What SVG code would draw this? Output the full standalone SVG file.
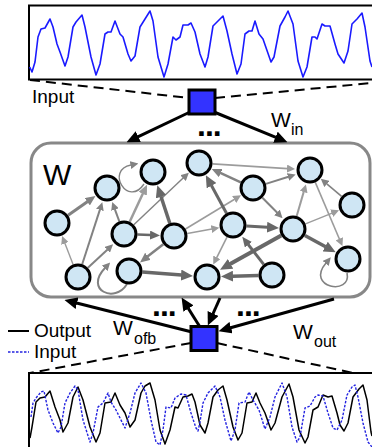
<svg xmlns="http://www.w3.org/2000/svg" width="372" height="447" viewBox="0 0 372 447">
<defs>
<style>
text{font-family:"Liberation Sans",Arial,Helvetica,sans-serif;fill:#000}
.node circle{fill:#cfe6f4;stroke:#000;stroke-width:3}
.sq{fill:#3333ff;stroke:#000;stroke-width:3}
.e{fill:none}
.dk{stroke:#686868}.md{stroke:#828282}.lt{stroke:#9c9c9c}
.io{stroke:#000;stroke-width:3;fill:none;marker-end:url(#aK)}
.dash{stroke:#000;stroke-width:2;stroke-dasharray:10 6;fill:none}
.lbl{font-size:19px}
.w{font-size:21px}
.sub{font-size:16px}
.dots{font-size:32px;font-weight:bold;letter-spacing:-1px}
</style>
<marker id="aDS" markerUnits="userSpaceOnUse" markerWidth="8" markerHeight="8" refX="0.5" refY="4" orient="auto" viewBox="0 0 8 8"><path d="M0,0L8,4L0,8z" fill="#686868"/></marker>
<marker id="aDM" markerUnits="userSpaceOnUse" markerWidth="10" markerHeight="9" refX="0.5" refY="4.5" orient="auto" viewBox="0 0 10 9"><path d="M0,0L10,4.5L0,9z" fill="#686868"/></marker>
<marker id="aDL" markerUnits="userSpaceOnUse" markerWidth="12" markerHeight="11" refX="0.5" refY="5.5" orient="auto" viewBox="0 0 12 11"><path d="M0,0L12,5.5L0,11z" fill="#686868"/></marker>
<marker id="aMS" markerUnits="userSpaceOnUse" markerWidth="8" markerHeight="8" refX="0.5" refY="4" orient="auto" viewBox="0 0 8 8"><path d="M0,0L8,4L0,8z" fill="#828282"/></marker>
<marker id="aMM" markerUnits="userSpaceOnUse" markerWidth="10" markerHeight="9" refX="0.5" refY="4.5" orient="auto" viewBox="0 0 10 9"><path d="M0,0L10,4.5L0,9z" fill="#828282"/></marker>
<marker id="aLS" markerUnits="userSpaceOnUse" markerWidth="8" markerHeight="8" refX="0.5" refY="4" orient="auto" viewBox="0 0 8 8"><path d="M0,0L8,4L0,8z" fill="#9c9c9c"/></marker>
<marker id="aLM" markerUnits="userSpaceOnUse" markerWidth="10" markerHeight="9" refX="0.5" refY="4.5" orient="auto" viewBox="0 0 10 9"><path d="M0,0L10,4.5L0,9z" fill="#9c9c9c"/></marker>
<marker id="aK" markerUnits="userSpaceOnUse" markerWidth="13" markerHeight="12" refX="0.5" refY="6" orient="auto" viewBox="0 0 13 12"><path d="M0,0L13,6L0,12z" fill="#000"/></marker>
</defs>
<rect width="372" height="447" fill="#fff"/>

<g id="input-plot">
<rect x="29" y="5.5" width="344" height="74" fill="#fff" stroke="#000" stroke-width="2"/>
<polyline fill="none" stroke="#1a1aff" stroke-width="1.6" stroke-linejoin="round" points="29.7,67 32,72 35,62 38,37 41,29 45,28 50,19 53,27 57,44 60,52 65,66 68,57 73,27 76,22 82,15 85,27 91,57 96,75 100,64 105,34 108,32 111,32 115,21 120,34 123,37 128,54 131,61 135,56 140,27 145,19 150,11 153,21 158,57 164,77 168,64 173,37 176,40 180,37 183,25 188,25 191,23 195,32 200,54 205,67 208,57 213,26 218,21 223,16 227,31 232,54 237,74 241,64 245,34 249,31 252,31 255,21 259,34 263,39 271,62 274,57 280,26 285,17 288,11 293,24 298,61 303,77 307,67 312,37 315,37 317,39 322,24 325,26 330,26 335,44 338,54 344,63 348,51 352,24 357,19 362,13 365,27 370,61 372,67"/>
</g>

<g id="output-plot">
<rect x="29" y="373" width="344" height="80" fill="#fff" stroke="#000" stroke-width="2"/>
<polyline fill="none" stroke="#000" stroke-width="1.5" stroke-linejoin="round" points="30,438 32,427 36,402 40,398 45,397 50,391 55,407 60,420 63,432 68,423 73,397 78,387 83,400 90,427 96,442 100,433 105,403 111,402 115,393 120,405 125,413 130,427 135,420 141,393 145,386 150,383 155,400 160,430 165,444 170,430 175,407 178,408 183,397 188,396 192,394 195,402 200,425 205,433 208,423 213,397 218,390 223,386 227,400 233,427 238,440 242,433 247,403 252,402 256,393 260,403 265,413 271,430 275,423 282,397 289,384 293,397 299,430 305,443 308,437 313,410 318,407 323,395 328,397 332,396 337,413 340,425 344,431 348,423 353,397 359,389 363,385 367,400 371,432 372,436"/>
<polyline fill="none" stroke="#2222e0" stroke-width="1.4" stroke-dasharray="2.5 1.5" stroke-linejoin="round" points="31,417 33,403 36,398 41,392 44,391 48,410 53,423 58,433 61,427 65,403 70,393 75,386 78,390 83,420 90,442 93,433 98,407 103,403 108,393 111,402 116,410 125,428 130,413 135,393 141,383 146,393 151,420 156,442 160,445 163,430 166,407 171,408 175,398 181,394 186,395 191,413 196,428 198,431 200,422 203,403 208,393 215,386 220,397 225,420 231,441 235,430 239,403 245,402 249,392 253,400 259,410 265,429 270,417 275,397 282,383 287,397 292,427 297,442 300,437 305,408 310,406 315,397 318,395 323,396 328,413 333,428 337,430 342,420 347,395 352,387 355,385 358,397 363,423 368,442 372,447"/>
</g>

<g id="reservoir">
<rect x="31" y="143" width="339" height="154" rx="20" ry="20" fill="#fff" stroke="#888" stroke-width="3"/>
<text x="43" y="185" font-size="30">W</text>
</g>

<g id="connectors">
<line class="dash" x1="30" y1="80" x2="189" y2="98"/>
<line class="dash" x1="215" y1="98" x2="372" y2="83"/>
<line class="dash" x1="191" y1="343" x2="30" y2="373"/>
<line class="dash" x1="217" y1="343" x2="353" y2="373"/>
<line class="io" x1="190" y1="112" x2="137.8" y2="136.8"/>
<line class="io" x1="214" y1="112" x2="275.9" y2="137.4"/>
<line class="io" x1="192" y1="332" x2="76.6" y2="303"/>
<line class="io" x1="200" y1="327" x2="188.2" y2="308.2"/>
<line class="io" x1="220" y1="298" x2="212.9" y2="314"/>
<line class="io" x1="334" y1="299" x2="230.6" y2="327.8"/>

<line class="e md" stroke-width="3" x1="68.1" y1="215.3" x2="87.7" y2="201.5" marker-end="url(#aMM)"/>
<line class="e lt" stroke-width="1.4" x1="73.1" y1="264.4" x2="64.8" y2="243" marker-end="url(#aLS)"/>
<line class="e md" stroke-width="2" x1="82.2" y1="264.2" x2="100" y2="209.4" marker-end="url(#aMS)"/>
<line class="e md" stroke-width="2" x1="87.9" y1="267.8" x2="107.6" y2="249.4" marker-end="url(#aMS)"/>
<line class="e md" stroke-width="2" x1="119.3" y1="221.3" x2="114.8" y2="209.1" marker-end="url(#aMS)"/>
<line class="e lt" stroke-width="2.5" x1="129.7" y1="221.8" x2="143" y2="193.3" marker-end="url(#aLM)"/>
<line class="e md" stroke-width="1.4" x1="133.8" y1="224.7" x2="183.4" y2="177.8" marker-end="url(#aMS)"/>
<line class="e dk" stroke-width="3.5" x1="169.8" y1="223.2" x2="160.9" y2="196.2" marker-end="url(#aDL)"/>
<line class="e dk" stroke-width="2.5" x1="137.5" y1="234.5" x2="150.5" y2="235.1" marker-end="url(#aDM)"/>
<line class="e md" stroke-width="2.5" x1="163.3" y1="244.3" x2="147.5" y2="256.6" marker-end="url(#aMM)"/>
<line class="e lt" stroke-width="1.6" x1="185.5" y1="229" x2="234.6" y2="199.2" marker-end="url(#aLS)"/>
<line class="e lt" stroke-width="1.6" x1="187.3" y1="233.5" x2="211.9" y2="229" marker-end="url(#aLS)"/>
<line class="e dk" stroke-width="3.5" x1="142.5" y1="272" x2="181.5" y2="275.1" marker-end="url(#aDL)"/>
<line class="e dk" stroke-width="3.5" x1="258.5" y1="275.4" x2="232.5" y2="276.2" marker-end="url(#aDL)"/>
<line class="e dk" stroke-width="4" x1="281.2" y1="235.6" x2="230.1" y2="264.1" marker-end="url(#aDL)"/>
<line class="e lt" stroke-width="1.6" x1="227" y1="237.1" x2="216.6" y2="257.8" marker-end="url(#aLS)"/>
<line class="e dk" stroke-width="3" x1="263.7" y1="264.4" x2="248.1" y2="244.3" marker-end="url(#aDM)"/>
<line class="e dk" stroke-width="3" x1="226.5" y1="213.2" x2="211.3" y2="185.3" marker-end="url(#aDL)"/>
<line class="e md" stroke-width="2.5" x1="240.8" y1="182.3" x2="220.3" y2="172.9" marker-end="url(#aMM)"/>
<line class="e lt" stroke-width="1.6" x1="212.5" y1="163.9" x2="287.5" y2="168.6" marker-end="url(#aLS)"/>
<line class="e md" stroke-width="2" x1="265.9" y1="183.9" x2="288.5" y2="176.8" marker-end="url(#aMS)"/>
<line class="e md" stroke-width="2" x1="262.4" y1="197.7" x2="277.3" y2="212.8" marker-end="url(#aMS)"/>
<line class="e dk" stroke-width="3" x1="246.5" y1="225.9" x2="267.5" y2="227.3" marker-end="url(#aDL)"/>
<line class="e lt" stroke-width="2" x1="296.7" y1="216" x2="303.8" y2="191.6" marker-end="url(#aLS)"/>
<line class="e lt" stroke-width="1.4" x1="305.5" y1="223.9" x2="332.1" y2="213.1" marker-end="url(#aLS)"/>
<line class="e md" stroke-width="1.6" x1="341.6" y1="196.4" x2="326.5" y2="183.7" marker-end="url(#aMS)"/>
<line class="e lt" stroke-width="1.6" x1="315.3" y1="182.4" x2="339.5" y2="239.2" marker-end="url(#aLS)"/>
<line class="e dk" stroke-width="3.5" x1="304.9" y1="235.5" x2="325.6" y2="246.8" marker-end="url(#aDL)"/>
<path class="e md" stroke-width="1.4" d="M144,184 C128,208 105,170 131,165" marker-end="url(#aMS)"/>
<path class="e md" stroke-width="2" d="M127,284 C115,304 84,290 105,268" marker-end="url(#aMS)"/>
<path class="e md" stroke-width="1.6" d="M347,273 C352,296 305,288 326,263" marker-end="url(#aMS)"/>
</g>

<g id="in-node"><rect class="sq" x="189" y="90" width="26" height="24"/></g>
<g id="out-node"><rect class="sq" x="191" y="326.5" width="26" height="24"/></g>

<g id="n1" class="node"><circle cx="57" cy="223" r="12"/></g>
<g id="n2" class="node"><circle cx="107" cy="188" r="12"/></g>
<g id="n3" class="node"><circle cx="153" cy="172" r="12"/></g>
<g id="n4" class="node"><circle cx="199" cy="163" r="12"/></g>
<g id="n5" class="node"><circle cx="253" cy="188" r="12"/></g>
<g id="n6" class="node"><circle cx="310" cy="170" r="12"/></g>
<g id="n7" class="node"><circle cx="352" cy="205" r="12"/></g>
<g id="n8" class="node"><circle cx="124" cy="234" r="12"/></g>
<g id="n9" class="node"><circle cx="174" cy="236" r="12"/></g>
<g id="n10" class="node"><circle cx="233" cy="225" r="12"/></g>
<g id="n11" class="node"><circle cx="293" cy="229" r="12"/></g>
<g id="n12" class="node"><circle cx="348" cy="259" r="12"/></g>
<g id="n13" class="node"><circle cx="78" cy="277" r="12"/></g>
<g id="n14" class="node"><circle cx="129" cy="271" r="12"/></g>
<g id="n15" class="node"><circle cx="207" cy="277" r="12"/></g>
<g id="n16" class="node"><circle cx="272" cy="275" r="12"/></g>

<g id="labels">
<text class="lbl" x="32" y="103">Input</text>
<text class="w" x="271" y="127">W</text><text class="sub" x="291" y="135">in</text>
<text class="dots" x="197" y="136">...</text>
<text class="dots" x="152" y="316">...</text>
<text class="dots" x="236" y="316">...</text>
<text class="w" x="113" y="335">W</text><text class="sub" x="134" y="344">ofb</text>
<text class="w" x="293" y="339">W</text><text class="sub" x="314" y="347">out</text>
</g>

<g id="legend">
<line x1="8" y1="331" x2="29" y2="331" stroke="#000" stroke-width="2"/>
<text class="lbl" x="34" y="337">Output</text>
<line x1="8" y1="352" x2="29" y2="352" stroke="#2222e0" stroke-width="1.6" stroke-dasharray="2.5 1.5"/>
<text class="lbl" x="34" y="358">Input</text>
</g>
</svg>
